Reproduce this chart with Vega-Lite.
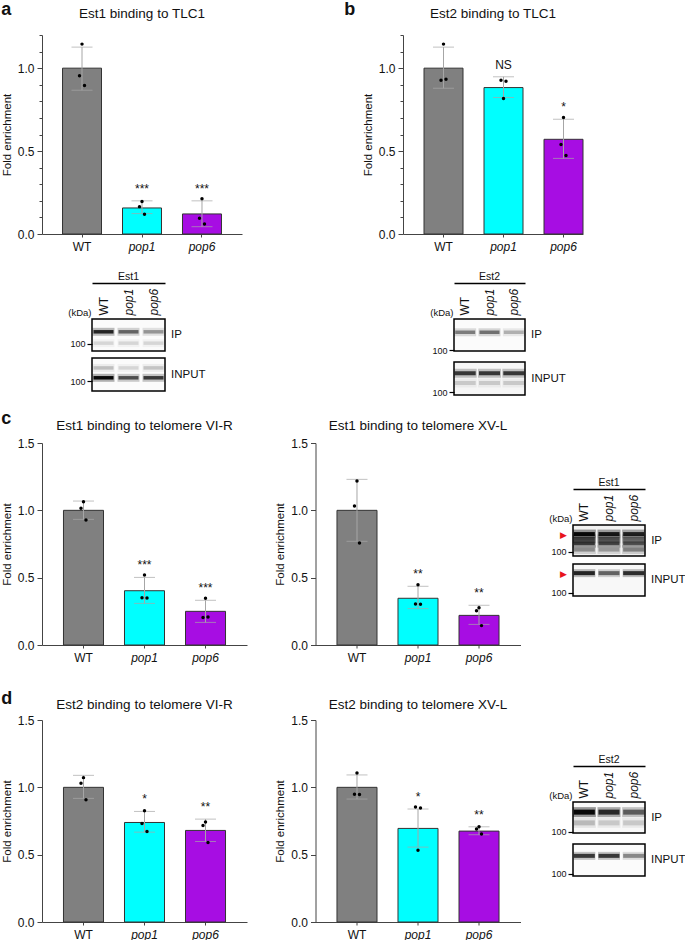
{
  "$schema": "https://vega.github.io/schema/vega-lite/v6.json",
  "background": "white",
  "padding": {"left": 1, "top": 0, "right": 0, "bottom": 0},
  "config": {
    "font": "Liberation Sans",
    "view": {"stroke": null},
    "axis": {"domainColor": "#444", "tickColor": "#444", "labelColor": "#111", "titleColor": "#111", "grid": false, "titleFontWeight": "normal"},
    "title": {"fontWeight": "normal", "color": "#111"}
  },
  "datasets": {
    "bars": [
      {"panel": "a", "genotype": "WT", "mean": 1.0, "lo": 0.867, "hi": 1.127, "sig": ""},
      {"panel": "a", "genotype": "pop1", "mean": 0.157, "lo": 0.123, "hi": 0.2, "sig": "***"},
      {"panel": "a", "genotype": "pop6", "mean": 0.121, "lo": 0.044, "hi": 0.2, "sig": "***"},
      {"panel": "b", "genotype": "WT", "mean": 1.0, "lo": 0.879, "hi": 1.127, "sig": ""},
      {"panel": "b", "genotype": "pop1", "mean": 0.883, "lo": 0.823, "hi": 0.948, "sig": "NS"},
      {"panel": "b", "genotype": "pop6", "mean": 0.571, "lo": 0.456, "hi": 0.692, "sig": "*"},
      {"panel": "c1", "genotype": "WT", "mean": 1.0, "lo": 0.933, "hi": 1.069, "sig": ""},
      {"panel": "c1", "genotype": "pop1", "mean": 0.403, "lo": 0.309, "hi": 0.502, "sig": "***"},
      {"panel": "c1", "genotype": "pop6", "mean": 0.25, "lo": 0.168, "hi": 0.332, "sig": "***"},
      {"panel": "c2", "genotype": "WT", "mean": 1.0, "lo": 0.77, "hi": 1.23, "sig": ""},
      {"panel": "c2", "genotype": "pop1", "mean": 0.347, "lo": 0.27, "hi": 0.436, "sig": "**"},
      {"panel": "c2", "genotype": "pop6", "mean": 0.22, "lo": 0.153, "hi": 0.295, "sig": "**"},
      {"panel": "d1", "genotype": "WT", "mean": 1.0, "lo": 0.918, "hi": 1.089, "sig": ""},
      {"panel": "d1", "genotype": "pop1", "mean": 0.739, "lo": 0.667, "hi": 0.821, "sig": "*"},
      {"panel": "d1", "genotype": "pop6", "mean": 0.68, "lo": 0.598, "hi": 0.764, "sig": "**"},
      {"panel": "d2", "genotype": "WT", "mean": 1.0, "lo": 0.913, "hi": 1.092, "sig": ""},
      {"panel": "d2", "genotype": "pop1", "mean": 0.695, "lo": 0.556, "hi": 0.839, "sig": "*"},
      {"panel": "d2", "genotype": "pop6", "mean": 0.675, "lo": 0.648, "hi": 0.707, "sig": "**"}
    ],
    "pts": [
      {"panel": "a", "genotype": "WT", "rep": 2, "value": 1.145}, {"panel": "a", "genotype": "WT", "rep": 1, "value": 0.954}, {"panel": "a", "genotype": "WT", "rep": 3, "value": 0.895},
      {"panel": "a", "genotype": "pop1", "rep": 2, "value": 0.196}, {"panel": "a", "genotype": "pop1", "rep": 1, "value": 0.165}, {"panel": "a", "genotype": "pop1", "rep": 3, "value": 0.119},
      {"panel": "a", "genotype": "pop6", "rep": 2, "value": 0.212}, {"panel": "a", "genotype": "pop6", "rep": 1, "value": 0.095}, {"panel": "a", "genotype": "pop6", "rep": 3, "value": 0.06},
      {"panel": "b", "genotype": "WT", "rep": 2, "value": 1.145}, {"panel": "b", "genotype": "WT", "rep": 1, "value": 0.927}, {"panel": "b", "genotype": "WT", "rep": 3, "value": 0.933},
      {"panel": "b", "genotype": "pop1", "rep": 1, "value": 0.927}, {"panel": "b", "genotype": "pop1", "rep": 3, "value": 0.921}, {"panel": "b", "genotype": "pop1", "rep": 2, "value": 0.817},
      {"panel": "b", "genotype": "pop6", "rep": 2, "value": 0.702}, {"panel": "b", "genotype": "pop6", "rep": 1, "value": 0.54}, {"panel": "b", "genotype": "pop6", "rep": 3, "value": 0.474},
      {"panel": "c1", "genotype": "WT", "rep": 2, "value": 1.064}, {"panel": "c1", "genotype": "WT", "rep": 1, "value": 1.015}, {"panel": "c1", "genotype": "WT", "rep": 3, "value": 0.928},
      {"panel": "c1", "genotype": "pop1", "rep": 2, "value": 0.52}, {"panel": "c1", "genotype": "pop1", "rep": 1, "value": 0.351}, {"panel": "c1", "genotype": "pop1", "rep": 3, "value": 0.349},
      {"panel": "c1", "genotype": "pop6", "rep": 2, "value": 0.347}, {"panel": "c1", "genotype": "pop6", "rep": 1, "value": 0.205}, {"panel": "c1", "genotype": "pop6", "rep": 3, "value": 0.208},
      {"panel": "c2", "genotype": "WT", "rep": 2, "value": 1.218}, {"panel": "c2", "genotype": "WT", "rep": 1, "value": 1.032}, {"panel": "c2", "genotype": "WT", "rep": 3, "value": 0.757},
      {"panel": "c2", "genotype": "pop1", "rep": 2, "value": 0.448}, {"panel": "c2", "genotype": "pop1", "rep": 1, "value": 0.304}, {"panel": "c2", "genotype": "pop1", "rep": 3, "value": 0.302},
      {"panel": "c2", "genotype": "pop6", "rep": 2, "value": 0.277}, {"panel": "c2", "genotype": "pop6", "rep": 1, "value": 0.255}, {"panel": "c2", "genotype": "pop6", "rep": 3, "value": 0.144},
      {"panel": "d1", "genotype": "WT", "rep": 2, "value": 1.072}, {"panel": "d1", "genotype": "WT", "rep": 1, "value": 1.03}, {"panel": "d1", "genotype": "WT", "rep": 3, "value": 0.908},
      {"panel": "d1", "genotype": "pop1", "rep": 2, "value": 0.826}, {"panel": "d1", "genotype": "pop1", "rep": 1, "value": 0.732}, {"panel": "d1", "genotype": "pop1", "rep": 3, "value": 0.672},
      {"panel": "d1", "genotype": "pop6", "rep": 2, "value": 0.742}, {"panel": "d1", "genotype": "pop6", "rep": 1, "value": 0.717}, {"panel": "d1", "genotype": "pop6", "rep": 3, "value": 0.591},
      {"panel": "d2", "genotype": "WT", "rep": 2, "value": 1.107}, {"panel": "d2", "genotype": "WT", "rep": 1, "value": 0.948}, {"panel": "d2", "genotype": "WT", "rep": 3, "value": 0.946},
      {"panel": "d2", "genotype": "pop1", "rep": 1, "value": 0.854}, {"panel": "d2", "genotype": "pop1", "rep": 3, "value": 0.846}, {"panel": "d2", "genotype": "pop1", "rep": 2, "value": 0.533},
      {"panel": "d2", "genotype": "pop6", "rep": 2, "value": 0.707}, {"panel": "d2", "genotype": "pop6", "rep": 1, "value": 0.69}, {"panel": "d2", "genotype": "pop6", "rep": 3, "value": 0.653}
    ],
    "lanes": [{"lane": "WT"}, {"lane": "pop1"}, {"lane": "pop6"}],
    "blots": [
      {"blot": "a", "panel": "IP", "lane": "WT", "kDa": 117, "intensity": 0.85},
      {"blot": "a", "panel": "IP", "lane": "pop1", "kDa": 117, "intensity": 0.55},
      {"blot": "a", "panel": "IP", "lane": "pop6", "kDa": 117, "intensity": 0.35},
      {"blot": "a", "panel": "IP", "lane": "WT", "kDa": 101, "intensity": 0.12},
      {"blot": "a", "panel": "IP", "lane": "pop1", "kDa": 101, "intensity": 0.12},
      {"blot": "a", "panel": "IP", "lane": "pop6", "kDa": 101, "intensity": 0.12},
      {"blot": "a", "panel": "INPUT", "lane": "WT", "kDa": 105, "intensity": 1.0},
      {"blot": "a", "panel": "INPUT", "lane": "pop1", "kDa": 105, "intensity": 0.65},
      {"blot": "a", "panel": "INPUT", "lane": "pop6", "kDa": 105, "intensity": 0.75},
      {"blot": "a", "panel": "INPUT", "lane": "WT", "kDa": 120, "intensity": 0.2},
      {"blot": "a", "panel": "INPUT", "lane": "pop1", "kDa": 120, "intensity": 0.12},
      {"blot": "a", "panel": "INPUT", "lane": "pop6", "kDa": 120, "intensity": 0.18},
      {"blot": "b", "panel": "IP", "lane": "WT", "kDa": 123, "intensity": 0.45},
      {"blot": "b", "panel": "IP", "lane": "pop1", "kDa": 123, "intensity": 0.5},
      {"blot": "b", "panel": "IP", "lane": "pop6", "kDa": 123, "intensity": 0.25},
      {"blot": "b", "panel": "INPUT", "lane": "WT", "kDa": 125, "intensity": 0.75},
      {"blot": "b", "panel": "INPUT", "lane": "pop1", "kDa": 125, "intensity": 0.75},
      {"blot": "b", "panel": "INPUT", "lane": "pop6", "kDa": 125, "intensity": 0.75},
      {"blot": "b", "panel": "INPUT", "lane": "WT", "kDa": 112, "intensity": 0.15},
      {"blot": "b", "panel": "INPUT", "lane": "pop1", "kDa": 112, "intensity": 0.15},
      {"blot": "b", "panel": "INPUT", "lane": "pop6", "kDa": 112, "intensity": 0.15},
      {"blot": "c", "panel": "IP", "lane": "WT", "kDa": 133, "intensity": 1.0},
      {"blot": "c", "panel": "IP", "lane": "WT", "kDa": 124, "intensity": 0.6},
      {"blot": "c", "panel": "IP", "lane": "WT", "kDa": 116, "intensity": 0.7},
      {"blot": "c", "panel": "IP", "lane": "WT", "kDa": 104, "intensity": 0.35},
      {"blot": "c", "panel": "IP", "lane": "pop1", "kDa": 133, "intensity": 0.9},
      {"blot": "c", "panel": "IP", "lane": "pop1", "kDa": 124, "intensity": 0.5},
      {"blot": "c", "panel": "IP", "lane": "pop1", "kDa": 116, "intensity": 0.65},
      {"blot": "c", "panel": "IP", "lane": "pop1", "kDa": 104, "intensity": 0.3},
      {"blot": "c", "panel": "IP", "lane": "pop6", "kDa": 133, "intensity": 0.85},
      {"blot": "c", "panel": "IP", "lane": "pop6", "kDa": 124, "intensity": 0.4},
      {"blot": "c", "panel": "IP", "lane": "pop6", "kDa": 116, "intensity": 0.6},
      {"blot": "c", "panel": "IP", "lane": "pop6", "kDa": 104, "intensity": 0.4},
      {"blot": "c", "panel": "INPUT", "lane": "WT", "kDa": 134, "intensity": 0.85},
      {"blot": "c", "panel": "INPUT", "lane": "pop1", "kDa": 134, "intensity": 0.55},
      {"blot": "c", "panel": "INPUT", "lane": "pop6", "kDa": 134, "intensity": 0.8},
      {"blot": "d", "panel": "IP", "lane": "WT", "kDa": 133, "intensity": 1.0},
      {"blot": "d", "panel": "IP", "lane": "pop1", "kDa": 133, "intensity": 0.8},
      {"blot": "d", "panel": "IP", "lane": "pop6", "kDa": 133, "intensity": 0.55},
      {"blot": "d", "panel": "IP", "lane": "WT", "kDa": 115, "intensity": 0.2},
      {"blot": "d", "panel": "IP", "lane": "pop1", "kDa": 115, "intensity": 0.15},
      {"blot": "d", "panel": "IP", "lane": "pop6", "kDa": 115, "intensity": 0.15},
      {"blot": "d", "panel": "INPUT", "lane": "WT", "kDa": 130, "intensity": 0.75},
      {"blot": "d", "panel": "INPUT", "lane": "pop1", "kDa": 130, "intensity": 0.75},
      {"blot": "d", "panel": "INPUT", "lane": "pop6", "kDa": 130, "intensity": 0.4}
    ]
  },
  "spacing": 0,
  "vconcat": [
    {
      "spacing": 102,
      "hconcat": [
        {
          "title": {"text": "a", "anchor": "start", "fontSize": 18, "fontWeight": "bold", "offset": -12},
          "vconcat": [
            {
              "width": 200, "height": 199,
              "title": {"text": "Est1 binding to TLC1", "fontSize": 13.5, "offset": 9},
              "encoding": {"x": {"field": "genotype", "type": "nominal", "sort": ["WT", "pop1", "pop6"], "scale": {"domain": ["WT", "pop1", "pop6"], "paddingInner": 0.35, "paddingOuter": 0.342}, "axis": {"title": null, "labelAngle": 0, "labelFontSize": 12, "labelPadding": 4, "tickSize": 3, "labelFontStyle": {"condition": {"test": "datum.value != 'WT'", "value": "italic"}, "value": "normal"}}}},
              "layer": [
                {"data": {"name": "bars"}, "transform": [{"filter": "datum.panel == 'a'"}], "mark": {"type": "bar", "stroke": "#333", "strokeWidth": 1},
                 "encoding": {"y": {"field": "mean", "type": "quantitative", "scale": {"domain": [0, 1.2], "nice": false}, "axis": {"orient": "left", "title": "Fold enrichment", "titleFontSize": 11.5, "titlePadding": 5, "values": [0, 0.5, 1], "format": ".1f", "labelFontSize": 12, "tickSize": 5, "labelPadding": 3}},
                  "fill": {"field": "genotype", "type": "nominal", "scale": {"domain": ["WT", "pop1", "pop6"], "range": ["#808080", "#00FFFF", "#A70DE3"]}, "legend": null}}},
                {"data": {"name": "bars"}, "transform": [{"filter": "datum.panel == 'a'"}], "mark": {"type": "errorbar", "color": "#a6a6a6", "ticks": {"size": 21}},
                 "encoding": {"y": {"field": "lo", "type": "quantitative", "scale": {"domain": [0, 1.2], "nice": false}, "axis": null}, "y2": {"field": "hi"}}},
                {"data": {"name": "pts"}, "transform": [{"filter": "datum.panel == 'a'"}],
                 "encoding": {"y": {"field": "value", "type": "quantitative", "scale": {"domain": [0, 1.2], "nice": false}, "axis": {"orient": "left", "title": null, "labels": false, "domain": false, "values": [0.1, 0.2, 0.3, 0.4, 0.6, 0.7, 0.8, 0.9, 1.1, 1.2], "tickSize": 3}}},
                 "layer": [
                   {"transform": [{"filter": "datum.rep == 1"}], "mark": {"type": "circle", "size": 12, "color": "black", "opacity": 1, "xOffset": -2.5}},
                   {"transform": [{"filter": "datum.rep == 2"}], "mark": {"type": "circle", "size": 12, "color": "black", "opacity": 1}},
                   {"transform": [{"filter": "datum.rep == 3"}], "mark": {"type": "circle", "size": 12, "color": "black", "opacity": 1, "xOffset": 2.5}}
                 ]},
                {"data": {"name": "bars"}, "transform": [{"filter": "datum.panel == 'a'"}], "mark": {"type": "text", "baseline": "bottom", "dy": -5, "fontSize": 12, "color": "#111"},
                 "encoding": {"y": {"field": "hi", "type": "quantitative", "scale": {"domain": [0, 1.2], "nice": false}, "axis": null}, "text": {"field": "sig"}}}
              ],
              "resolve": {"axis": {"y": "independent"}}
            }
          ]
        },
        {
          "title": {"text": "b", "anchor": "start", "fontSize": 18, "fontWeight": "bold", "offset": -12, "dx": -18},
          "vconcat": [
            {
              "width": 180, "height": 199,
              "title": {"text": "Est2 binding to TLC1", "fontSize": 13.5, "offset": 9},
              "encoding": {"x": {"field": "genotype", "type": "nominal", "sort": ["WT", "pop1", "pop6"], "scale": {"domain": ["WT", "pop1", "pop6"], "paddingInner": 0.35, "paddingOuter": 0.175, "align": 1}, "axis": {"title": null, "labelAngle": 0, "labelFontSize": 12, "labelPadding": 4, "tickSize": 3, "labelFontStyle": {"condition": {"test": "datum.value != 'WT'", "value": "italic"}, "value": "normal"}}}},
              "layer": [
                {"data": {"name": "bars"}, "transform": [{"filter": "datum.panel == 'b'"}], "mark": {"type": "bar", "stroke": "#333", "strokeWidth": 1},
                 "encoding": {"y": {"field": "mean", "type": "quantitative", "scale": {"domain": [0, 1.2], "nice": false}, "axis": {"orient": "left", "title": "Fold enrichment", "titleFontSize": 11.5, "titlePadding": 5, "values": [0, 0.5, 1], "format": ".1f", "labelFontSize": 12, "tickSize": 5, "labelPadding": 3}},
                  "fill": {"field": "genotype", "type": "nominal", "scale": {"domain": ["WT", "pop1", "pop6"], "range": ["#808080", "#00FFFF", "#A70DE3"]}, "legend": null}}},
                {"data": {"name": "bars"}, "transform": [{"filter": "datum.panel == 'b'"}], "mark": {"type": "errorbar", "color": "#a6a6a6", "ticks": {"size": 21}},
                 "encoding": {"y": {"field": "lo", "type": "quantitative", "scale": {"domain": [0, 1.2], "nice": false}, "axis": null}, "y2": {"field": "hi"}}},
                {"data": {"name": "pts"}, "transform": [{"filter": "datum.panel == 'b'"}],
                 "encoding": {"y": {"field": "value", "type": "quantitative", "scale": {"domain": [0, 1.2], "nice": false}, "axis": {"orient": "left", "title": null, "labels": false, "domain": false, "values": [0.1, 0.2, 0.3, 0.4, 0.6, 0.7, 0.8, 0.9, 1.1, 1.2], "tickSize": 3}}},
                 "layer": [
                   {"transform": [{"filter": "datum.rep == 1"}], "mark": {"type": "circle", "size": 12, "color": "black", "opacity": 1, "xOffset": -2.5}},
                   {"transform": [{"filter": "datum.rep == 2"}], "mark": {"type": "circle", "size": 12, "color": "black", "opacity": 1}},
                   {"transform": [{"filter": "datum.rep == 3"}], "mark": {"type": "circle", "size": 12, "color": "black", "opacity": 1, "xOffset": 2.5}}
                 ]},
                {"data": {"name": "bars"}, "transform": [{"filter": "datum.panel == 'b'"}], "mark": {"type": "text", "baseline": "bottom", "dy": -5, "fontSize": 12, "color": "#111"},
                 "encoding": {"y": {"field": "hi", "type": "quantitative", "scale": {"domain": [0, 1.2], "nice": false}, "axis": null}, "text": {"field": "sig"}}}
              ],
              "resolve": {"axis": {"y": "independent"}}
            }
          ]
        }
      ]
    },
    {"width": 1, "height": 20, "data": {"values": [{}]}, "mark": {"type": "point", "opacity": 0}, "encoding": {}},
    {
      "spacing": 0,
      "hconcat": [
        {"width": 25, "height": 1, "data": {"values": [{}]}, "mark": {"type": "point", "opacity": 0}, "encoding": {}},
        {
          "spacing": 1,
          "vconcat": [
            {"width": 73, "height": 1, "title": {"text": "Est1", "fontSize": 10.5, "offset": -3},
             "data": {"name": "lanes"}, "mark": {"type": "point", "opacity": 0},
             "encoding": {"x": {"field": "lane", "type": "nominal", "scale": {"domain": ["WT", "pop1", "pop6"]}, "axis": {"orient": "bottom", "title": null, "labels": false, "ticks": false, "domainColor": "black", "domainWidth": 1.3}}}},
            {
              "spacing": 5,
              "vconcat": [
                {"width": 73, "height": 32,
                 "view": {"stroke": "black", "strokeWidth": 1.5, "fill": "#fbfbfb"},
                 "title": {"text": "IP", "orient": "right", "angle": 0, "align": "right", "baseline": "middle", "anchor": "middle", "fontSize": 11.5, "offset": 6},
                 "data": {"name": "blots"}, "transform": [{"filter": "datum.blot == 'a' && datum.panel == 'IP'"}],
                 "encoding": {
                   "x": {"field": "lane", "type": "nominal", "scale": {"domain": ["WT", "pop1", "pop6"], "paddingInner": 0.2, "paddingOuter": 0.06}, "axis": {"orient": "top", "title": null, "labelAngle": 270, "labelAlign": "left", "labelBaseline": "middle", "labelFontSize": 12, "labelPadding": 4, "ticks": false, "domain": false, "labelFontStyle": {"condition": {"test": "datum.value != 'WT'", "value": "italic"}, "value": "normal"}}},
                   "y": {"field": "kDa", "type": "quantitative", "scale": {"domain": [90, 135], "nice": false, "zero": false}, "axis": {"values": [100], "title": "(kDa)", "titleAngle": 0, "titleAlign": "right", "titleBaseline": "bottom", "titleX": -1, "titleY": -2, "titleFontSize": 9.5, "labelFontSize": 9, "tickSize": 5, "tickColor": "black", "tickWidth": 1.2, "domain": false, "labelPadding": 2}}
                 },
                 "layer": [
                   {"mark": {"type": "tick", "thickness": 8, "size": 22, "color": "black"}, "encoding": {"opacity": {"field": "intensity", "type": "quantitative", "scale": {"domain": [0, 1], "range": [0, 0.3]}, "legend": null}}},
                   {"mark": {"type": "tick", "thickness": 3.5, "size": 20, "color": "black"}, "encoding": {"opacity": {"field": "intensity", "type": "quantitative", "scale": {"domain": [0, 1], "range": [0, 0.95]}, "legend": null}}}
                 ],
                 "resolve": {"scale": {"opacity": "independent"}}
                },
                {"width": 73, "height": 33,
                 "view": {"stroke": "black", "strokeWidth": 1.5, "fill": "#fbfbfb"},
                 "title": {"text": "INPUT", "orient": "right", "angle": 0, "align": "right", "baseline": "middle", "anchor": "middle", "fontSize": 11.5, "offset": 6},
                 "data": {"name": "blots"}, "transform": [{"filter": "datum.blot == 'a' && datum.panel == 'INPUT'"}],
                 "encoding": {
                   "x": {"field": "lane", "type": "nominal", "scale": {"domain": ["WT", "pop1", "pop6"], "paddingInner": 0.2, "paddingOuter": 0.06}, "axis": null},
                   "y": {"field": "kDa", "type": "quantitative", "scale": {"domain": [85, 135], "nice": false, "zero": false}, "axis": {"values": [100], "title": null, "labelFontSize": 9, "tickSize": 5, "tickColor": "black", "tickWidth": 1.2, "domain": false, "labelPadding": 2}}
                 },
                 "layer": [
                   {"mark": {"type": "tick", "thickness": 8, "size": 22, "color": "black"}, "encoding": {"opacity": {"field": "intensity", "type": "quantitative", "scale": {"domain": [0, 1], "range": [0, 0.3]}, "legend": null}}},
                   {"mark": {"type": "tick", "thickness": 3.5, "size": 20, "color": "black"}, "encoding": {"opacity": {"field": "intensity", "type": "quantitative", "scale": {"domain": [0, 1], "range": [0, 0.95]}, "legend": null}}}
                 ],
                 "resolve": {"scale": {"opacity": "independent"}}
                }
              ]
            }
          ]
        },
        {"width": 222, "height": 1, "data": {"values": [{}]}, "mark": {"type": "point", "opacity": 0}, "encoding": {}},
        {
          "spacing": 1,
          "vconcat": [
            {"width": 71, "height": 1, "title": {"text": "Est2", "fontSize": 10.5, "offset": -3},
             "data": {"name": "lanes"}, "mark": {"type": "point", "opacity": 0},
             "encoding": {"x": {"field": "lane", "type": "nominal", "scale": {"domain": ["WT", "pop1", "pop6"]}, "axis": {"orient": "bottom", "title": null, "labels": false, "ticks": false, "domainColor": "black", "domainWidth": 1.3}}}},
            {
              "spacing": 5,
              "vconcat": [
                {"width": 71, "height": 32,
                 "view": {"stroke": "black", "strokeWidth": 1.5, "fill": "#fbfbfb"},
                 "title": {"text": "IP", "orient": "right", "angle": 0, "align": "right", "baseline": "middle", "anchor": "middle", "fontSize": 11.5, "offset": 6},
                 "data": {"name": "blots"}, "transform": [{"filter": "datum.blot == 'b' && datum.panel == 'IP'"}],
                 "encoding": {
                   "x": {"field": "lane", "type": "nominal", "scale": {"domain": ["WT", "pop1", "pop6"], "paddingInner": 0.2, "paddingOuter": 0.06}, "axis": {"orient": "top", "title": null, "labelAngle": 270, "labelAlign": "left", "labelBaseline": "middle", "labelFontSize": 12, "labelPadding": 4, "ticks": false, "domain": false, "labelFontStyle": {"condition": {"test": "datum.value != 'WT'", "value": "italic"}, "value": "normal"}}},
                   "y": {"field": "kDa", "type": "quantitative", "scale": {"domain": [99, 140], "nice": false, "zero": false}, "axis": {"values": [100], "title": "(kDa)", "titleAngle": 0, "titleAlign": "right", "titleBaseline": "bottom", "titleX": -1, "titleY": -2, "titleFontSize": 9.5, "labelFontSize": 9, "tickSize": 5, "tickColor": "black", "tickWidth": 1.2, "domain": false, "labelPadding": 2}}
                 },
                 "layer": [
                   {"mark": {"type": "tick", "thickness": 8, "size": 22, "color": "black"}, "encoding": {"opacity": {"field": "intensity", "type": "quantitative", "scale": {"domain": [0, 1], "range": [0, 0.3]}, "legend": null}}},
                   {"mark": {"type": "tick", "thickness": 3.5, "size": 20, "color": "black"}, "encoding": {"opacity": {"field": "intensity", "type": "quantitative", "scale": {"domain": [0, 1], "range": [0, 0.95]}, "legend": null}}}
                 ],
                 "resolve": {"scale": {"opacity": "independent"}}
                },
                {"width": 71, "height": 33,
                 "view": {"stroke": "black", "strokeWidth": 1.5, "fill": "#f6f6f6"},
                 "title": {"text": "INPUT", "orient": "right", "angle": 0, "align": "right", "baseline": "middle", "anchor": "middle", "fontSize": 11.5, "offset": 6},
                 "data": {"name": "blots"}, "transform": [{"filter": "datum.blot == 'b' && datum.panel == 'INPUT'"}],
                 "encoding": {
                   "x": {"field": "lane", "type": "nominal", "scale": {"domain": ["WT", "pop1", "pop6"], "paddingInner": 0.2, "paddingOuter": 0.06}, "axis": null},
                   "y": {"field": "kDa", "type": "quantitative", "scale": {"domain": [96, 140], "nice": false, "zero": false}, "axis": {"values": [100], "title": null, "labelFontSize": 9, "tickSize": 5, "tickColor": "black", "tickWidth": 1.2, "domain": false, "labelPadding": 2}}
                 },
                 "layer": [
                   {"mark": {"type": "tick", "thickness": 9, "size": 23, "color": "black"}, "encoding": {"opacity": {"field": "intensity", "type": "quantitative", "scale": {"domain": [0, 1], "range": [0, 0.3]}, "legend": null}}},
                   {"mark": {"type": "tick", "thickness": 4, "size": 21, "color": "black"}, "encoding": {"opacity": {"field": "intensity", "type": "quantitative", "scale": {"domain": [0, 1], "range": [0, 0.95]}, "legend": null}}}
                 ],
                 "resolve": {"scale": {"opacity": "independent"}}
                }
              ]
            }
          ]
        }
      ]
    },
    {"width": 1, "height": 11, "data": {"values": [{}]}, "mark": {"type": "point", "opacity": 0}, "encoding": {}},
    {
      "title": {"text": "c", "anchor": "start", "fontSize": 18, "fontWeight": "bold", "offset": -9},
      "spacing": 27.5,
      "hconcat": [
        {
          "width": 205, "height": 202,
          "title": {"text": "Est1 binding to telomere VI-R", "fontSize": 13.5, "offset": 5},
          "encoding": {"x": {"field": "genotype", "type": "nominal", "sort": ["WT", "pop1", "pop6"], "scale": {"domain": ["WT", "pop1", "pop6"], "paddingInner": 0.344, "paddingOuter": 0.352}, "axis": {"title": null, "labelAngle": 0, "labelFontSize": 12, "labelPadding": 4, "tickSize": 3, "labelFontStyle": {"condition": {"test": "datum.value != 'WT'", "value": "italic"}, "value": "normal"}}}},
          "layer": [
            {"data": {"name": "bars"}, "transform": [{"filter": "datum.panel == 'c1'"}], "mark": {"type": "bar", "stroke": "#333", "strokeWidth": 1},
             "encoding": {"y": {"field": "mean", "type": "quantitative", "scale": {"domain": [0, 1.5], "nice": false}, "axis": {"title": "Fold enrichment", "titleFontSize": 11.5, "titlePadding": 5, "values": [0, 0.5, 1, 1.5], "format": ".1f", "labelFontSize": 12, "tickSize": 5, "labelPadding": 3}},
              "fill": {"field": "genotype", "type": "nominal", "scale": {"domain": ["WT", "pop1", "pop6"], "range": ["#808080", "#00FFFF", "#A70DE3"]}, "legend": null}}},
            {"data": {"name": "bars"}, "transform": [{"filter": "datum.panel == 'c1'"}], "mark": {"type": "errorbar", "color": "#a6a6a6", "ticks": {"size": 21}},
             "encoding": {"y": {"field": "lo", "type": "quantitative", "scale": {"domain": [0, 1.5], "nice": false}, "title": "Fold enrichment"}, "y2": {"field": "hi"}}},
            {"data": {"name": "pts"}, "transform": [{"filter": "datum.panel == 'c1'"}],
             "encoding": {"y": {"field": "value", "type": "quantitative", "scale": {"domain": [0, 1.5], "nice": false}, "title": "Fold enrichment"}},
             "layer": [
               {"transform": [{"filter": "datum.rep == 1"}], "mark": {"type": "circle", "size": 12, "color": "black", "opacity": 1, "xOffset": -2.5}},
               {"transform": [{"filter": "datum.rep == 2"}], "mark": {"type": "circle", "size": 12, "color": "black", "opacity": 1}},
               {"transform": [{"filter": "datum.rep == 3"}], "mark": {"type": "circle", "size": 12, "color": "black", "opacity": 1, "xOffset": 2.5}}
             ]},
            {"data": {"name": "bars"}, "transform": [{"filter": "datum.panel == 'c1'"}], "mark": {"type": "text", "baseline": "bottom", "dy": -5, "fontSize": 12, "color": "#111"},
             "encoding": {"y": {"field": "hi", "type": "quantitative", "scale": {"domain": [0, 1.5], "nice": false}, "title": "Fold enrichment"}, "text": {"field": "sig"}}}
          ]
        },
        {
          "width": 205, "height": 202,
          "title": {"text": "Est1 binding to telomere XV-L", "fontSize": 13.5, "offset": 5},
          "encoding": {"x": {"field": "genotype", "type": "nominal", "sort": ["WT", "pop1", "pop6"], "scale": {"domain": ["WT", "pop1", "pop6"], "paddingInner": 0.344, "paddingOuter": 0.352}, "axis": {"title": null, "labelAngle": 0, "labelFontSize": 12, "labelPadding": 4, "tickSize": 3, "labelFontStyle": {"condition": {"test": "datum.value != 'WT'", "value": "italic"}, "value": "normal"}}}},
          "layer": [
            {"data": {"name": "bars"}, "transform": [{"filter": "datum.panel == 'c2'"}], "mark": {"type": "bar", "stroke": "#333", "strokeWidth": 1},
             "encoding": {"y": {"field": "mean", "type": "quantitative", "scale": {"domain": [0, 1.5], "nice": false}, "axis": {"title": "Fold enrichment", "titleFontSize": 11.5, "titlePadding": 5, "values": [0, 0.5, 1, 1.5], "format": ".1f", "labelFontSize": 12, "tickSize": 5, "labelPadding": 3}},
              "fill": {"field": "genotype", "type": "nominal", "scale": {"domain": ["WT", "pop1", "pop6"], "range": ["#808080", "#00FFFF", "#A70DE3"]}, "legend": null}}},
            {"data": {"name": "bars"}, "transform": [{"filter": "datum.panel == 'c2'"}], "mark": {"type": "errorbar", "color": "#a6a6a6", "ticks": {"size": 21}},
             "encoding": {"y": {"field": "lo", "type": "quantitative", "scale": {"domain": [0, 1.5], "nice": false}, "title": "Fold enrichment"}, "y2": {"field": "hi"}}},
            {"data": {"name": "pts"}, "transform": [{"filter": "datum.panel == 'c2'"}],
             "encoding": {"y": {"field": "value", "type": "quantitative", "scale": {"domain": [0, 1.5], "nice": false}, "title": "Fold enrichment"}},
             "layer": [
               {"transform": [{"filter": "datum.rep == 1"}], "mark": {"type": "circle", "size": 12, "color": "black", "opacity": 1, "xOffset": -2.5}},
               {"transform": [{"filter": "datum.rep == 2"}], "mark": {"type": "circle", "size": 12, "color": "black", "opacity": 1}},
               {"transform": [{"filter": "datum.rep == 3"}], "mark": {"type": "circle", "size": 12, "color": "black", "opacity": 1, "xOffset": 2.5}}
             ]},
            {"data": {"name": "bars"}, "transform": [{"filter": "datum.panel == 'c2'"}], "mark": {"type": "text", "baseline": "bottom", "dy": -5, "fontSize": 12, "color": "#111"},
             "encoding": {"y": {"field": "hi", "type": "quantitative", "scale": {"domain": [0, 1.5], "nice": false}, "title": "Fold enrichment"}, "text": {"field": "sig"}}}
          ]
        },
        {
          "spacing": 1,
          "vconcat": [
            {"width": 1, "height": 34, "data": {"values": [{}]}, "mark": {"type": "point", "opacity": 0}, "encoding": {}},
            {"width": 72, "height": 1, "title": {"text": "Est1", "fontSize": 10.5, "offset": -3},
             "data": {"name": "lanes"}, "mark": {"type": "point", "opacity": 0},
             "encoding": {"x": {"field": "lane", "type": "nominal", "scale": {"domain": ["WT", "pop1", "pop6"]}, "axis": {"orient": "bottom", "title": null, "labels": false, "ticks": false, "domainColor": "black", "domainWidth": 1.3}}}},
            {
              "spacing": 5,
              "vconcat": [
                {"width": 72, "height": 31,
                 "view": {"stroke": "black", "strokeWidth": 1.5, "fill": "#f2f2f2"},
                 "title": {"text": "IP", "orient": "right", "angle": 0, "align": "right", "baseline": "middle", "anchor": "middle", "fontSize": 11.5, "offset": 6},
                 "data": {"name": "blots"}, "transform": [{"filter": "datum.blot == 'c' && datum.panel == 'IP'"}],
                 "encoding": {
                   "x": {"field": "lane", "type": "nominal", "scale": {"domain": ["WT", "pop1", "pop6"], "paddingInner": 0.2, "paddingOuter": 0.06}, "axis": {"orient": "top", "title": null, "labelAngle": 270, "labelAlign": "left", "labelBaseline": "middle", "labelFontSize": 12, "labelPadding": 4, "ticks": false, "domain": false, "labelFontStyle": {"condition": {"test": "datum.value != 'WT'", "value": "italic"}, "value": "normal"}}},
                   "y": {"field": "kDa", "type": "quantitative", "scale": {"domain": [92, 150], "nice": false, "zero": false}, "axis": {"values": [100, 133], "labelExpr": "datum.value == 100 ? '100' : '▶'", "labelColor": {"condition": {"test": "datum.value != 100", "value": "#e8141c"}, "value": "#111"}, "tickOpacity": {"condition": {"test": "datum.value != 100", "value": 0}, "value": 1}, "title": "(kDa)", "titleAngle": 0, "titleAlign": "right", "titleBaseline": "bottom", "titleX": -1, "titleY": -2, "titleFontSize": 9.5, "labelFontSize": 9, "tickSize": 5, "tickColor": "black", "tickWidth": 1.2, "domain": false, "labelPadding": 2}}
                 },
                 "layer": [
                   {"mark": {"type": "tick", "thickness": 9, "size": 23, "color": "black"}, "encoding": {"opacity": {"field": "intensity", "type": "quantitative", "scale": {"domain": [0, 1], "range": [0, 0.4]}, "legend": null}}},
                   {"mark": {"type": "tick", "thickness": 4, "size": 21, "color": "black"}, "encoding": {"opacity": {"field": "intensity", "type": "quantitative", "scale": {"domain": [0, 1], "range": [0, 0.95]}, "legend": null}}}
                 ],
                 "resolve": {"scale": {"opacity": "independent"}}
                },
                {"width": 72, "height": 32,
                 "view": {"stroke": "black", "strokeWidth": 1.5, "fill": "#f8f8f8"},
                 "title": {"text": "INPUT", "orient": "right", "angle": 0, "align": "right", "baseline": "middle", "anchor": "middle", "fontSize": 11.5, "offset": 6},
                 "data": {"name": "blots"}, "transform": [{"filter": "datum.blot == 'c' && datum.panel == 'INPUT'"}],
                 "encoding": {
                   "x": {"field": "lane", "type": "nominal", "scale": {"domain": ["WT", "pop1", "pop6"], "paddingInner": 0.2, "paddingOuter": 0.06}, "axis": null},
                   "y": {"field": "kDa", "type": "quantitative", "scale": {"domain": [94, 150], "nice": false, "zero": false}, "axis": {"values": [100, 134], "labelExpr": "datum.value == 100 ? '100' : '▶'", "labelColor": {"condition": {"test": "datum.value != 100", "value": "#e8141c"}, "value": "#111"}, "tickOpacity": {"condition": {"test": "datum.value != 100", "value": 0}, "value": 1}, "title": null, "labelFontSize": 9, "tickSize": 5, "tickColor": "black", "tickWidth": 1.2, "domain": false, "labelPadding": 2}}
                 },
                 "layer": [
                   {"mark": {"type": "tick", "thickness": 8, "size": 22, "color": "black"}, "encoding": {"opacity": {"field": "intensity", "type": "quantitative", "scale": {"domain": [0, 1], "range": [0, 0.3]}, "legend": null}}},
                   {"mark": {"type": "tick", "thickness": 4, "size": 21, "color": "black"}, "encoding": {"opacity": {"field": "intensity", "type": "quantitative", "scale": {"domain": [0, 1], "range": [0, 0.95]}, "legend": null}}}
                 ],
                 "resolve": {"scale": {"opacity": "independent"}}
                }
              ]
            }
          ]
        }
      ]
    },
    {"width": 1, "height": 26, "data": {"values": [{}]}, "mark": {"type": "point", "opacity": 0}, "encoding": {}},
    {
      "title": {"text": "d", "anchor": "start", "fontSize": 18, "fontWeight": "bold", "offset": -10},
      "spacing": 27.5,
      "hconcat": [
        {
          "width": 205, "height": 202,
          "title": {"text": "Est2 binding to telomere VI-R", "fontSize": 13.5, "offset": 3},
          "encoding": {"x": {"field": "genotype", "type": "nominal", "sort": ["WT", "pop1", "pop6"], "scale": {"domain": ["WT", "pop1", "pop6"], "paddingInner": 0.344, "paddingOuter": 0.352}, "axis": {"title": null, "labelAngle": 0, "labelFontSize": 12, "labelPadding": 4, "tickSize": 3, "labelFontStyle": {"condition": {"test": "datum.value != 'WT'", "value": "italic"}, "value": "normal"}}}},
          "layer": [
            {"data": {"name": "bars"}, "transform": [{"filter": "datum.panel == 'd1'"}], "mark": {"type": "bar", "stroke": "#333", "strokeWidth": 1},
             "encoding": {"y": {"field": "mean", "type": "quantitative", "scale": {"domain": [0, 1.5], "nice": false}, "axis": {"title": "Fold enrichment", "titleFontSize": 11.5, "titlePadding": 5, "values": [0, 0.5, 1, 1.5], "format": ".1f", "labelFontSize": 12, "tickSize": 5, "labelPadding": 3}},
              "fill": {"field": "genotype", "type": "nominal", "scale": {"domain": ["WT", "pop1", "pop6"], "range": ["#808080", "#00FFFF", "#A70DE3"]}, "legend": null}}},
            {"data": {"name": "bars"}, "transform": [{"filter": "datum.panel == 'd1'"}], "mark": {"type": "errorbar", "color": "#a6a6a6", "ticks": {"size": 21}},
             "encoding": {"y": {"field": "lo", "type": "quantitative", "scale": {"domain": [0, 1.5], "nice": false}, "title": "Fold enrichment"}, "y2": {"field": "hi"}}},
            {"data": {"name": "pts"}, "transform": [{"filter": "datum.panel == 'd1'"}],
             "encoding": {"y": {"field": "value", "type": "quantitative", "scale": {"domain": [0, 1.5], "nice": false}, "title": "Fold enrichment"}},
             "layer": [
               {"transform": [{"filter": "datum.rep == 1"}], "mark": {"type": "circle", "size": 12, "color": "black", "opacity": 1, "xOffset": -2.5}},
               {"transform": [{"filter": "datum.rep == 2"}], "mark": {"type": "circle", "size": 12, "color": "black", "opacity": 1}},
               {"transform": [{"filter": "datum.rep == 3"}], "mark": {"type": "circle", "size": 12, "color": "black", "opacity": 1, "xOffset": 2.5}}
             ]},
            {"data": {"name": "bars"}, "transform": [{"filter": "datum.panel == 'd1'"}], "mark": {"type": "text", "baseline": "bottom", "dy": -5, "fontSize": 12, "color": "#111"},
             "encoding": {"y": {"field": "hi", "type": "quantitative", "scale": {"domain": [0, 1.5], "nice": false}, "title": "Fold enrichment"}, "text": {"field": "sig"}}}
          ]
        },
        {
          "width": 205, "height": 202,
          "title": {"text": "Est2 binding to telomere XV-L", "fontSize": 13.5, "offset": 3},
          "encoding": {"x": {"field": "genotype", "type": "nominal", "sort": ["WT", "pop1", "pop6"], "scale": {"domain": ["WT", "pop1", "pop6"], "paddingInner": 0.344, "paddingOuter": 0.352}, "axis": {"title": null, "labelAngle": 0, "labelFontSize": 12, "labelPadding": 4, "tickSize": 3, "labelFontStyle": {"condition": {"test": "datum.value != 'WT'", "value": "italic"}, "value": "normal"}}}},
          "layer": [
            {"data": {"name": "bars"}, "transform": [{"filter": "datum.panel == 'd2'"}], "mark": {"type": "bar", "stroke": "#333", "strokeWidth": 1},
             "encoding": {"y": {"field": "mean", "type": "quantitative", "scale": {"domain": [0, 1.5], "nice": false}, "axis": {"title": "Fold enrichment", "titleFontSize": 11.5, "titlePadding": 5, "values": [0, 0.5, 1, 1.5], "format": ".1f", "labelFontSize": 12, "tickSize": 5, "labelPadding": 3}},
              "fill": {"field": "genotype", "type": "nominal", "scale": {"domain": ["WT", "pop1", "pop6"], "range": ["#808080", "#00FFFF", "#A70DE3"]}, "legend": null}}},
            {"data": {"name": "bars"}, "transform": [{"filter": "datum.panel == 'd2'"}], "mark": {"type": "errorbar", "color": "#a6a6a6", "ticks": {"size": 21}},
             "encoding": {"y": {"field": "lo", "type": "quantitative", "scale": {"domain": [0, 1.5], "nice": false}, "title": "Fold enrichment"}, "y2": {"field": "hi"}}},
            {"data": {"name": "pts"}, "transform": [{"filter": "datum.panel == 'd2'"}],
             "encoding": {"y": {"field": "value", "type": "quantitative", "scale": {"domain": [0, 1.5], "nice": false}, "title": "Fold enrichment"}},
             "layer": [
               {"transform": [{"filter": "datum.rep == 1"}], "mark": {"type": "circle", "size": 12, "color": "black", "opacity": 1, "xOffset": -2.5}},
               {"transform": [{"filter": "datum.rep == 2"}], "mark": {"type": "circle", "size": 12, "color": "black", "opacity": 1}},
               {"transform": [{"filter": "datum.rep == 3"}], "mark": {"type": "circle", "size": 12, "color": "black", "opacity": 1, "xOffset": 2.5}}
             ]},
            {"data": {"name": "bars"}, "transform": [{"filter": "datum.panel == 'd2'"}], "mark": {"type": "text", "baseline": "bottom", "dy": -5, "fontSize": 12, "color": "#111"},
             "encoding": {"y": {"field": "hi", "type": "quantitative", "scale": {"domain": [0, 1.5], "nice": false}, "title": "Fold enrichment"}, "text": {"field": "sig"}}}
          ]
        },
        {
          "spacing": 1,
          "vconcat": [
            {"width": 1, "height": 34, "data": {"values": [{}]}, "mark": {"type": "point", "opacity": 0}, "encoding": {}},
            {"width": 72, "height": 1, "title": {"text": "Est2", "fontSize": 10.5, "offset": -3},
             "data": {"name": "lanes"}, "mark": {"type": "point", "opacity": 0},
             "encoding": {"x": {"field": "lane", "type": "nominal", "scale": {"domain": ["WT", "pop1", "pop6"]}, "axis": {"orient": "bottom", "title": null, "labels": false, "ticks": false, "domainColor": "black", "domainWidth": 1.3}}}},
            {
              "spacing": 5,
              "vconcat": [
                {"width": 72, "height": 31,
                 "view": {"stroke": "black", "strokeWidth": 1.5, "fill": "#f8f8f8"},
                 "title": {"text": "IP", "orient": "right", "angle": 0, "align": "right", "baseline": "middle", "anchor": "middle", "fontSize": 11.5, "offset": 6},
                 "data": {"name": "blots"}, "transform": [{"filter": "datum.blot == 'd' && datum.panel == 'IP'"}],
                 "encoding": {
                   "x": {"field": "lane", "type": "nominal", "scale": {"domain": ["WT", "pop1", "pop6"], "paddingInner": 0.2, "paddingOuter": 0.06}, "axis": {"orient": "top", "title": null, "labelAngle": 270, "labelAlign": "left", "labelBaseline": "middle", "labelFontSize": 12, "labelPadding": 4, "ticks": false, "domain": false, "labelFontStyle": {"condition": {"test": "datum.value != 'WT'", "value": "italic"}, "value": "normal"}}},
                   "y": {"field": "kDa", "type": "quantitative", "scale": {"domain": [98, 150], "nice": false, "zero": false}, "axis": {"values": [100], "title": "(kDa)", "titleAngle": 0, "titleAlign": "right", "titleBaseline": "bottom", "titleX": -1, "titleY": -2, "titleFontSize": 9.5, "labelFontSize": 9, "tickSize": 5, "tickColor": "black", "tickWidth": 1.2, "domain": false, "labelPadding": 2}}
                 },
                 "layer": [
                   {"mark": {"type": "tick", "thickness": 10, "size": 23, "color": "black"}, "encoding": {"opacity": {"field": "intensity", "type": "quantitative", "scale": {"domain": [0, 1], "range": [0, 0.4]}, "legend": null}}},
                   {"mark": {"type": "tick", "thickness": 5, "size": 21, "color": "black"}, "encoding": {"opacity": {"field": "intensity", "type": "quantitative", "scale": {"domain": [0, 1], "range": [0, 0.95]}, "legend": null}}}
                 ],
                 "resolve": {"scale": {"opacity": "independent"}}
                },
                {"width": 72, "height": 32,
                 "view": {"stroke": "black", "strokeWidth": 1.5, "fill": "#fbfbfb"},
                 "title": {"text": "INPUT", "orient": "right", "angle": 0, "align": "right", "baseline": "middle", "anchor": "middle", "fontSize": 11.5, "offset": 6},
                 "data": {"name": "blots"}, "transform": [{"filter": "datum.blot == 'd' && datum.panel == 'INPUT'"}],
                 "encoding": {
                   "x": {"field": "lane", "type": "nominal", "scale": {"domain": ["WT", "pop1", "pop6"], "paddingInner": 0.2, "paddingOuter": 0.06}, "axis": null},
                   "y": {"field": "kDa", "type": "quantitative", "scale": {"domain": [96, 150], "nice": false, "zero": false}, "axis": {"values": [100], "title": null, "labelFontSize": 9, "tickSize": 5, "tickColor": "black", "tickWidth": 1.2, "domain": false, "labelPadding": 2}}
                 },
                 "layer": [
                   {"mark": {"type": "tick", "thickness": 8, "size": 22, "color": "black"}, "encoding": {"opacity": {"field": "intensity", "type": "quantitative", "scale": {"domain": [0, 1], "range": [0, 0.3]}, "legend": null}}},
                   {"mark": {"type": "tick", "thickness": 4, "size": 21, "color": "black"}, "encoding": {"opacity": {"field": "intensity", "type": "quantitative", "scale": {"domain": [0, 1], "range": [0, 0.95]}, "legend": null}}}
                 ],
                 "resolve": {"scale": {"opacity": "independent"}}
                }
              ]
            }
          ]
        }
      ]
    }
  ]
}
